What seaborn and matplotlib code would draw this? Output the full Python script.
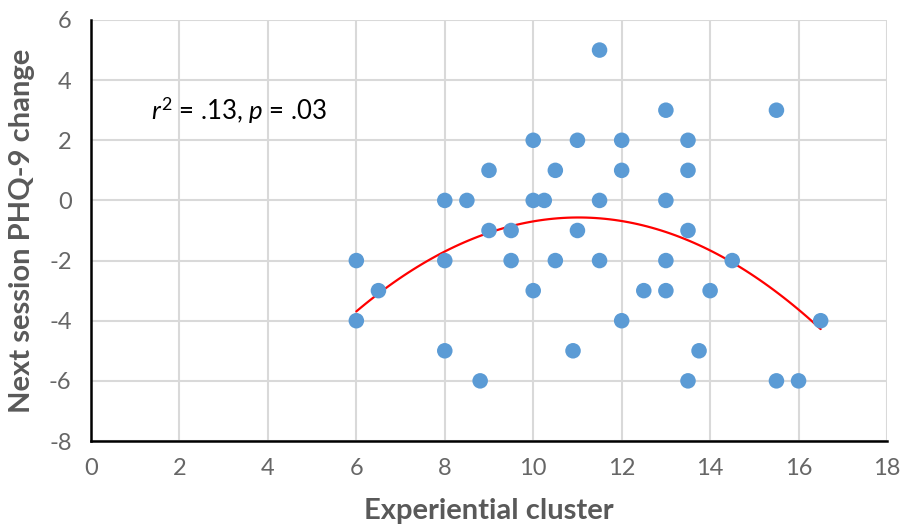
import numpy as np
import pandas as pd
import seaborn as sns
import matplotlib.pyplot as plt

experiential = [6, 6, 6.5, 8, 8.5, 8, 8, 8.8, 9, 9, 9.5, 9.5, 10, 10, 10.25, 10,
                10.5, 10.5, 10.9, 11, 11, 11.5, 11.5, 11.5, 12, 12, 12, 12.5,
                13, 13, 13, 13, 13.5, 13.5, 13.5, 13.5, 14, 13.75, 14.5, 15.5,
                15.5, 16, 16.5]
phq_change = [-2, -4, -3, 0, 0, -2, -5, -6, 1, -1, -1, -2, 2, 0, 0, -3,
              1, -2, -5, 2, -1, 5, 0, -2, 2, 1, -4, -3,
              3, 0, -2, -3, 2, 1, -1, -6, -3, -5, -2, 3,
              -6, -6, -4]
x_ticks = [0, 2, 4, 6, 8, 10, 12, 14, 16, 18]
y_ticks = [-8, -6, -4, -2, 0, 2, 4, 6]

df = pd.DataFrame({"x": experiential, "y": phq_change})

sns.set_style("white")
plt.rcParams['font.family'] = ['Lato', 'DejaVu Sans']
plt.rcParams['axes.unicode_minus'] = False
plt.rcParams['mathtext.fontset'] = 'custom'
plt.rcParams['mathtext.rm'] = 'Lato'
plt.rcParams['mathtext.it'] = 'Lato:italic'

fig = plt.figure(figsize=(9.05, 5.3), dpi=100)
ax = fig.add_axes([91/905, 1 - 441/530, (887-91)/905, (441-20)/530])

sns.regplot(data=df, x="x", y="y", order=2, ci=None, scatter=False,
            truncate=True, ax=ax, line_kws=dict(color="#FF0000", lw=1.6, zorder=2))
sns.scatterplot(data=df, x="x", y="y", ax=ax, s=125, color="#5B9BD5",
                edgecolor="none", zorder=3)

ax.set_xlim(0, 18)
ax.set_ylim(-8, 6)
ax.set_xticks(x_ticks)
ax.set_yticks(y_ticks)
ax.set_xticklabels([str(t) for t in x_ticks])
ax.set_yticklabels([str(t) for t in y_ticks])
ax.grid(True, color="#D9D9D9", lw=1.5)
ax.set_axisbelow(True)
for s in ["top", "right"]:
    ax.spines[s].set_visible(False)
for s in ["left", "bottom"]:
    ax.spines[s].set_color("black")
    ax.spines[s].set_linewidth(1.8)
ax.tick_params(axis="both", length=0, labelsize=17, labelcolor="#666666")
ax.tick_params(axis="x", pad=12)
ax.tick_params(axis="y", pad=14)

ax.set_xlabel("Experiential cluster", fontsize=21, fontweight="bold", color="#595959", labelpad=14)
ax.set_ylabel("Next session PHQ-9 change", fontsize=21, fontweight="bold", color="#595959", labelpad=10)

ax.text(1.35, 3, r"$r^{\mathregular{2}}$ = .13, $p$ = .03", fontsize=18.5, color="black", va="center",
        ha="left")

fig.savefig("out.png", dpi=100)
